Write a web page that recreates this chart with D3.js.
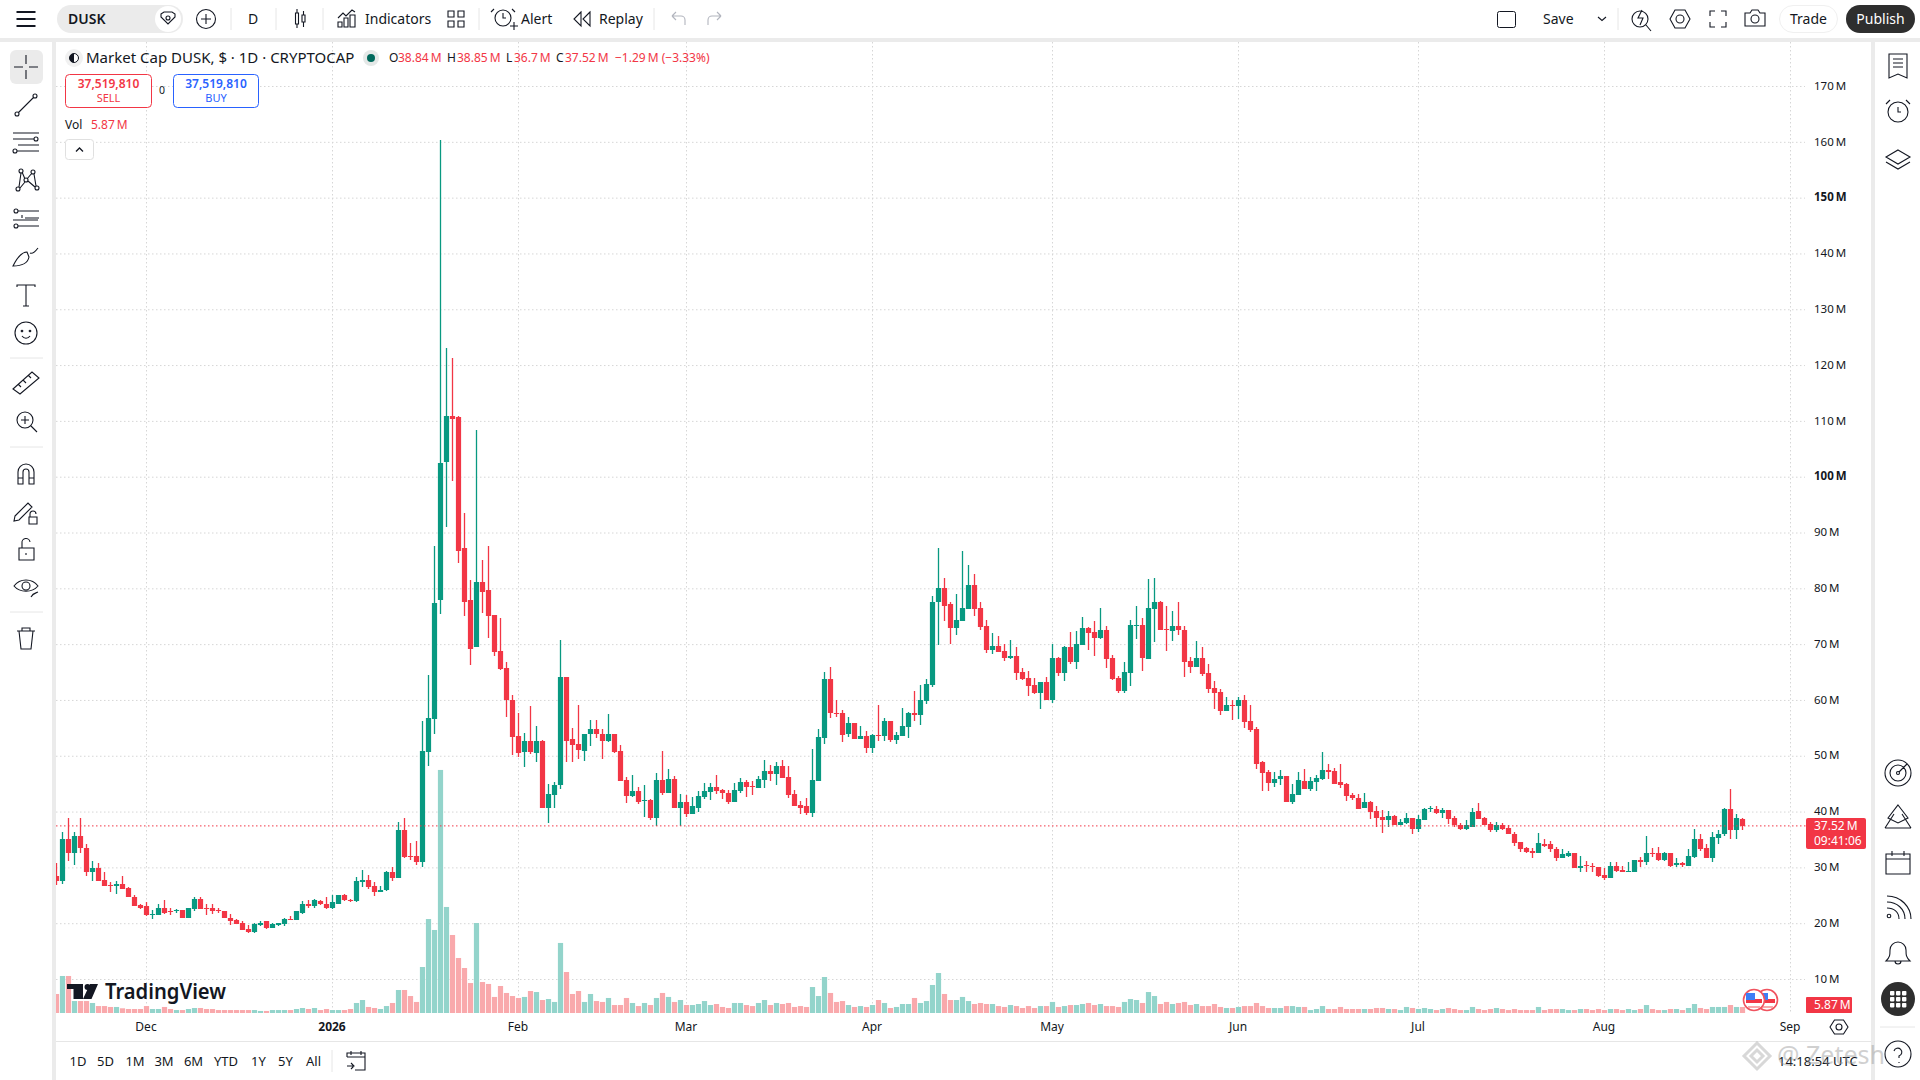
<!DOCTYPE html>
<html>
<head>
<meta charset="utf-8">
<script src="https://d3js.org/d3.v7.min.js"></script>
<style>
  html, body { margin: 0; padding: 0; background: #ffffff; overflow: hidden; }
  svg { display: block; }
  text { font-family: 'Noto Sans', sans-serif; fill: #131722; }
</style>
</head>
<body>
<div id="chartContainer"></div>
<script>
// daily candles, first one is 16 Nov 2025, values in millions
var firstDay = new Date(Date.UTC(2025, 10, 16));

var opens = [
  28.6,27.7,35.1,32.7,35.8,33.6,29.2,29.9,27.9,27.0,
  26.7,27.2,26.4,24.8,23.3,23.1,21.6,21.6,22.9,22.2,
  22.2,22.4,21.1,22.7,24.5,22.9,22.9,22.4,22.2,21.1,
  20.6,20.1,19.0,18.5,19.7,20.4,19.2,19.7,19.9,20.8,
  20.6,22.0,23.6,23.1,24.0,23.6,22.9,23.6,25.2,24.3,
  24.0,27.4,27.9,26.7,25.6,26.0,29.2,28.1,36.8,32.2,
  32.2,31.0,50.8,56.7,78.0,102.8,110.9,110.7,87.3,78.0,
  69.6,81.2,79.7,75.3,68.9,65.9,60.1,53.6,50.8,52.8,
  50.6,52.8,40.8,43.1,44.8,64.2,53.1,52.2,51.0,53.9,
  54.8,53.9,52.8,53.9,51.0,45.8,42.9,43.8,42.0,42.2,
  39.0,45.8,43.5,46.0,40.8,41.8,39.7,40.8,42.7,43.6,
  44.5,44.0,43.5,41.8,43.8,45.4,44.7,44.3,45.8,47.4,
  46.8,48.3,46.3,43.3,41.3,41.0,39.9,45.6,53.3,63.8,
  57.7,57.7,54.0,56.0,53.1,53.6,51.5,53.8,53.6,56.3,
  52.9,53.6,55.2,57.7,57.4,59.9,62.7,77.6,80.1,77.2,
  72.9,74.3,76.3,80.6,76.5,73.3,69.0,69.7,68.8,67.6,
  67.9,65.1,64.0,62.7,61.3,63.3,60.1,67.6,64.9,69.5,
  66.8,69.9,72.9,72.2,71.1,72.6,67.6,64.0,61.7,64.9,
  73.4,73.6,67.4,76.3,77.6,72.8,72.4,73.3,72.7,67.0,
  66.0,67.6,64.9,62.2,61.5,58.1,59.2,59.0,60.1,56.3,
  54.9,49.0,47.2,45.2,46.0,46.5,41.8,43.1,45.6,44.2,
  45.4,46.0,47.6,47.4,45.4,45.1,43.1,42.6,40.8,41.8,
  40.2,39.2,38.6,39.3,37.7,38.1,39.0,37.0,38.6,40.5,
  40.6,39.9,40.4,39.0,37.7,37.0,37.4,40.2,39.0,37.9,
  36.8,37.7,37.2,36.1,34.7,33.5,33.1,32.6,34.3,34.2,
  33.3,31.8,32.2,32.7,29.9,30.5,30.4,30.2,28.8,28.1,
  30.4,29.7,29.3,29.3,31.5,31.1,32.7,32.7,31.5,32.6,
  30.6,30.8,30.4,32.0,35.2,33.5,31.7,35.4,36.0,40.6,
  36.7,38.84
];
var highs = [
  30.8,36.5,39.0,36.5,39.0,34.2,31.3,30.8,29.2,27.4,
  27.6,28.6,26.5,25.2,23.6,23.8,22.4,23.5,24.3,22.9,
  22.7,22.4,22.9,24.7,24.7,23.5,23.6,22.9,22.3,21.7,
  20.8,20.4,19.7,20.1,20.4,20.4,20.2,20.2,21.1,21.3,
  22.2,24.0,24.3,24.5,24.3,24.7,25.1,25.2,25.3,24.5,
  28.3,29.7,28.8,27.4,26.7,29.5,30.1,38.3,39.0,34.5,
  34.9,56.3,64.5,87.6,160.4,123.2,121.4,110.9,93.5,81.5,
  108.4,85.2,87.6,75.3,74.7,66.9,60.9,57.8,54.2,59.0,
  55.4,53.0,45.1,45.4,70.9,64.2,55.1,59.2,54.0,56.5,
  56.5,54.8,57.6,53.9,52.1,46.2,46.7,44.5,44.9,42.4,
  47.0,51.0,47.7,46.5,43.3,43.1,42.7,43.8,45.2,45.2,
  46.7,44.2,44.0,45.2,46.1,45.8,45.6,46.5,49.3,48.5,
  49.0,49.3,48.3,44.0,42.0,42.6,51.3,54.9,65.1,66.0,
  60.1,58.3,57.0,56.0,55.4,54.5,54.0,59.2,56.8,56.3,
  54.3,58.6,57.9,61.7,62.7,63.8,78.8,87.4,82.0,77.7,
  79.0,86.8,84.3,82.6,77.7,74.5,72.0,71.5,70.1,70.8,
  69.5,65.8,65.2,64.0,63.3,64.2,70.1,67.7,69.7,72.2,
  72.4,74.9,73.1,74.2,76.5,73.3,68.1,64.3,66.8,74.5,
  77.0,74.7,81.7,82.0,77.9,77.0,76.0,77.7,73.3,67.7,
  70.6,69.5,66.5,63.5,62.0,60.6,60.1,60.7,61.0,59.2,
  55.2,49.2,47.6,47.2,47.6,46.5,45.1,47.2,47.7,46.3,
  46.7,50.8,48.6,47.9,48.6,45.2,43.5,43.3,43.5,42.0,
  41.1,40.4,40.2,39.5,38.8,39.9,39.0,39.5,40.8,41.1,
  41.0,40.8,40.4,39.3,38.1,38.6,40.8,41.7,39.2,38.3,
  38.3,38.1,37.6,36.5,34.7,33.8,33.6,36.3,35.2,34.9,
  33.8,33.3,33.1,32.7,32.2,31.3,30.8,30.2,29.9,31.1,
  31.1,30.4,31.1,31.5,32.0,35.8,33.6,33.8,32.9,32.7,
  31.7,31.0,33.3,37.0,36.1,34.2,36.5,36.7,40.8,44.2,
  39.7,38.85
];
var lows = [
  27.0,27.2,31.3,30.6,32.6,28.5,27.6,27.7,26.8,25.6,
  25.4,26.3,24.7,23.1,22.7,21.3,20.8,21.5,21.8,21.5,
  22.0,21.0,21.1,22.2,22.7,21.5,21.7,22.0,21.0,19.7,
  19.9,18.8,18.3,18.3,19.5,19.0,19.2,19.5,19.5,20.6,
  20.6,21.7,22.9,22.9,23.3,22.6,22.7,23.5,24.0,23.8,
  23.8,26.5,26.3,24.9,25.6,25.8,27.7,28.1,31.8,31.5,
  30.6,30.1,48.3,53.9,75.5,91.1,99.4,84.6,75.1,66.4,
  69.6,75.6,71.2,68.0,65.5,57.1,50.3,49.9,48.0,50.4,
  49.0,40.8,38.1,40.8,44.2,49.0,49.0,49.5,49.2,51.9,
  53.3,49.5,52.6,50.6,45.6,41.7,42.7,41.5,39.2,38.5,
  37.5,43.1,43.5,40.8,37.5,39.2,39.7,40.1,42.4,42.2,
  43.3,42.4,41.5,41.8,43.5,42.7,43.1,44.3,44.3,45.6,
  44.9,46.1,42.6,41.1,39.7,39.5,39.2,45.6,52.2,56.8,
  57.0,52.6,53.5,53.1,53.1,50.6,50.6,52.7,52.7,52.6,
  52.2,53.6,53.3,56.3,55.6,59.3,62.4,69.9,74.2,70.2,
  71.8,74.2,76.3,75.2,72.6,68.5,68.3,68.6,67.0,67.4,
  63.6,63.6,60.8,61.1,58.5,60.1,59.5,64.3,63.5,66.5,
  65.6,69.9,69.0,67.9,71.0,65.8,63.6,61.3,61.3,62.6,
  71.0,65.2,67.4,70.4,72.6,68.8,70.6,71.8,64.2,64.9,
  66.0,64.3,61.3,58.5,57.4,58.1,56.5,56.7,55.1,54.3,
  47.7,43.8,43.8,44.5,44.9,41.8,41.5,43.1,44.2,43.8,
  43.8,45.8,46.0,45.1,44.3,42.0,42.2,40.6,40.8,38.8,
  37.4,36.3,37.4,37.7,37.7,37.9,36.1,36.5,38.6,40.1,
  39.7,39.0,37.9,37.4,36.7,36.8,37.4,38.8,37.7,36.5,
  36.5,36.8,36.0,34.0,32.9,32.7,31.8,32.6,33.8,32.9,
  31.3,31.7,32.0,29.9,29.3,29.2,29.3,28.3,27.9,28.1,
  29.2,29.2,29.3,29.3,30.1,30.6,32.0,31.3,31.3,30.2,
  30.1,30.1,30.4,31.8,33.1,31.7,31.1,34.3,35.8,35.2,
  35.1,36.7
];
var closes = [
  27.7,35.1,32.7,35.8,33.5,29.2,29.9,27.7,26.8,26.7,
  27.2,26.3,24.7,23.1,22.9,21.5,21.7,22.9,22.0,22.1,
  22.4,21.1,22.9,24.5,22.7,22.8,22.2,22.2,21.0,20.4,
  19.9,18.8,18.5,19.9,20.2,19.2,19.9,20.1,20.8,20.6,
  22.2,23.6,23.1,24.2,23.5,22.9,23.8,25.2,24.2,24.1,
  27.6,27.9,26.5,25.6,26.1,29.2,28.1,36.8,32.0,32.0,
  31.0,51.0,56.9,77.4,102.5,110.9,110.4,86.7,77.6,69.2,
  81.2,79.4,75.1,68.7,65.6,60.0,53.5,50.6,52.8,50.8,
  52.8,40.8,43.3,44.9,64.2,52.8,52.1,51.2,54.0,54.8,
  53.9,52.8,53.9,50.8,45.6,42.8,43.8,41.8,42.1,39.0,
  45.8,43.5,46.0,40.8,41.8,39.7,41.0,42.9,43.8,44.5,
  43.8,43.5,41.8,44.0,45.4,44.5,44.5,46.0,47.4,46.8,
  48.3,46.1,43.1,41.1,40.8,39.9,45.8,53.5,63.8,57.7,
  57.5,53.8,56.0,53.1,53.6,51.5,53.8,53.6,56.3,52.9,
  53.8,55.4,57.7,57.4,60.1,62.9,77.7,80.1,77.0,72.9,
  74.5,76.5,80.6,76.3,73.1,69.0,69.7,68.6,67.6,67.9,
  64.9,63.8,62.6,61.3,63.3,60.1,67.6,64.9,69.5,66.8,
  70.1,72.9,72.0,71.1,72.6,67.4,63.8,61.7,65.1,73.6,
  73.6,67.6,76.5,77.6,72.6,72.6,73.3,72.6,66.8,66.0,
  67.6,64.7,62.0,61.3,58.1,59.2,59.0,60.1,56.1,54.7,
  48.6,47.0,45.2,46.0,46.5,41.8,43.3,45.8,44.2,45.6,
  46.1,47.6,47.2,45.1,44.9,42.9,42.6,40.6,41.8,40.1,
  39.0,38.6,39.3,37.7,38.3,39.0,37.0,38.8,40.6,40.7,
  39.9,40.4,38.8,37.6,37.0,37.6,40.1,38.8,37.7,36.8,
  37.7,37.0,36.0,34.5,33.3,32.9,32.6,34.5,34.0,33.3,
  31.8,32.4,32.7,29.9,30.4,30.3,30.2,28.6,28.1,30.4,
  29.5,29.3,29.5,31.5,31.1,32.7,32.6,31.5,32.6,30.4,
  30.8,30.6,32.2,35.2,33.3,31.7,35.6,36.1,40.6,36.7,
  39.0,37.52
];
var volumes = [
  18.6,36.2,36.2,11.7,11.7,11.7,9.8,6.8,6.8,5.9,
  5.9,4.6,3.9,3.9,3.9,6.8,3.9,3.9,5.9,3.9,
  2.9,2.9,3.9,4.9,4.9,3.9,3.9,2.9,2.9,2.9,
  2.9,2.9,2.9,2.9,2.0,2.0,2.9,2.9,2.9,2.9,
  3.9,4.9,3.9,4.9,2.9,3.9,2.9,2.9,2.9,3.9,
  9.8,12.7,5.9,4.9,3.9,6.8,9.8,22.5,22.5,16.6,
  10.8,45.0,91.9,81.2,237.7,103.7,76.3,53.8,44.0,29.3,
  88.0,30.3,28.4,15.7,26.4,19.6,16.6,14.7,15.7,21.5,
  20.5,12.7,13.7,10.8,68.5,40.1,18.6,21.5,10.8,18.6,
  11.7,10.8,14.7,7.8,7.8,14.7,9.8,6.8,9.8,7.8,
  14.7,19.6,15.7,10.8,12.7,7.8,7.8,8.8,11.7,7.8,
  8.8,5.9,4.9,9.8,9.8,7.8,6.8,9.8,12.7,7.8,
  9.8,8.8,9.8,5.9,6.8,5.9,25.4,16.6,35.2,19.6,
  10.8,11.7,7.8,5.9,6.8,5.9,7.8,12.7,9.8,4.9,
  5.9,8.8,8.8,14.7,9.8,11.7,27.4,39.1,18.6,12.7,
  12.7,15.7,11.7,8.8,9.8,8.8,8.8,6.8,5.9,7.8,
  6.8,4.9,6.8,4.9,6.8,6.8,10.8,5.9,6.8,7.8,
  7.8,8.8,9.8,7.8,8.8,6.8,6.8,5.9,10.8,13.7,
  12.7,9.8,20.5,16.6,8.8,10.8,8.8,9.8,10.8,7.8,
  8.8,6.8,6.8,8.8,5.9,4.9,4.9,5.9,6.8,6.8,
  9.8,6.8,4.9,4.9,4.9,6.8,6.8,5.9,5.9,2.9,
  3.9,6.8,3.9,3.9,5.9,3.9,3.9,3.9,3.9,3.9,
  4.9,4.9,3.9,3.9,2.9,5.9,4.9,3.9,4.9,3.9,
  2.9,3.9,4.9,3.9,2.9,2.9,5.9,3.9,2.9,3.9,
  4.9,3.9,2.9,3.9,2.9,2.9,2.9,5.9,2.9,3.9,
  3.9,3.9,2.9,2.9,3.9,3.9,2.9,3.9,2.9,3.9,
  3.9,2.9,3.9,2.9,3.9,7.8,3.9,2.9,2.9,3.9,
  3.9,2.9,4.9,8.8,4.9,3.9,5.9,5.9,5.9,7.8,
  5.9,5.87
];

var priceTicks = [170, 160, 150, 140, 130, 120, 110, 100, 90, 80, 70, 60, 50, 40, 30, 20, 10];
var boldPrices = [150, 100];
var monthTicks = [
  new Date(Date.UTC(2025, 11, 1)), new Date(Date.UTC(2026, 0, 1)), new Date(Date.UTC(2026, 1, 1)),
  new Date(Date.UTC(2026, 2, 1)), new Date(Date.UTC(2026, 3, 1)), new Date(Date.UTC(2026, 4, 1)),
  new Date(Date.UTC(2026, 5, 1)), new Date(Date.UTC(2026, 6, 1)), new Date(Date.UTC(2026, 7, 1)),
  new Date(Date.UTC(2026, 8, 1))
];
var rangeLabels = ["1D", "5D", "1M", "3M", "6M", "YTD", "1Y", "5Y", "All"];
var rangeLabelX = [78, 105.5, 135, 164, 193.5, 226, 258.5, 285.5, 313.5];

var upColor = "#089981", downColor = "#F23645";
var upVol = "#93D4CB", downVol = "#F9A9AC";
var ink = "#131722";
var gap = "#EBEBEB";

var svg = d3.select("#chartContainer").append("svg").attr("width", 1920).attr("height", 1080);

var x = d3.scaleUtc().domain([monthTicks[0], monthTicks[9]]).range([146.5, 1790.5]);
var y = d3.scaleLinear().domain([10, 170]).range([979.5, 86.5]);
var yVol = d3.scaleLinear().domain([0, 240]).range([1013, 767.6]);

var candles = opens.map(function (o, i) {
  return { date: d3.utcDay.offset(firstDay, i), open: o, high: highs[i], low: lows[i], close: closes[i], volume: volumes[i], up: closes[i] >= o };
});

// panel backgrounds
svg.append("rect").attr("width", 1920).attr("height", 1080).attr("fill", "#ffffff");
svg.append("rect").attr("x", 0).attr("y", 38).attr("width", 1920).attr("height", 4).attr("fill", gap);
svg.append("rect").attr("x", 52).attr("y", 38).attr("width", 4).attr("height", 1042).attr("fill", gap);
svg.append("rect").attr("x", 1871).attr("y", 38).attr("width", 4).attr("height", 1042).attr("fill", gap);
svg.append("rect").attr("x", 56).attr("y", 1041).attr("width", 1815).attr("height", 1).attr("fill", "#E6E6E6");

var defs = svg.append("defs");
defs.append("clipPath").attr("id", "plot").append("rect").attr("x", 56).attr("y", 42).attr("width", 1749).attr("height", 971);

// grid
var grid = svg.append("g").attr("clip-path", "url(#plot)")
  .attr("stroke", "#D6D6D6").attr("stroke-width", 1).attr("stroke-dasharray", "1.5 2.5");
grid.selectAll("line.h").data(priceTicks).enter().append("line")
  .attr("x1", 56).attr("x2", 1805)
  .attr("y1", function (d) { return y(d); }).attr("y2", function (d) { return y(d); });
grid.selectAll("line.v").data(monthTicks).enter().append("line")
  .attr("y1", 42).attr("y2", 1013)
  .attr("x1", function (d) { return x(d); }).attr("x2", function (d) { return x(d); });

var plot = svg.append("g").attr("clip-path", "url(#plot)");

// volume
plot.append("g").selectAll("rect").data(candles).enter().append("rect")
  .attr("x", function (d) { return x(d.date) - 2.6; })
  .attr("width", 5.2)
  .attr("y", function (d) { return yVol(d.volume); })
  .attr("height", function (d) { return yVol(0) - yVol(d.volume); })
  .attr("fill", function (d) { return d.up ? upVol : downVol; });

// candles, wick then body
plot.append("g").selectAll("rect").data(candles).enter().append("rect")
  .attr("x", function (d) { return x(d.date) - 0.65; })
  .attr("width", 1.3)
  .attr("y", function (d) { return Math.round(y(d.high)); })
  .attr("height", function (d) { return Math.max(1, Math.round(y(d.low)) - Math.round(y(d.high))); })
  .attr("fill", function (d) { return d.up ? upColor : downColor; });
plot.append("g").selectAll("rect").data(candles).enter().append("rect")
  .attr("x", function (d) { return x(d.date) - 2.6; })
  .attr("width", 5.2)
  .attr("y", function (d) { return Math.round(y(Math.max(d.open, d.close))); })
  .attr("height", function (d) { return Math.max(1, Math.round(y(Math.min(d.open, d.close))) - Math.round(y(Math.max(d.open, d.close)))); })
  .attr("fill", function (d) { return d.up ? upColor : downColor; });

// last price line
var lastClose = closes[closes.length - 1];
svg.append("line").attr("x1", 56).attr("x2", 1806)
  .attr("y1", y(lastClose)).attr("y2", y(lastClose))
  .attr("stroke", downColor).attr("stroke-width", 1).attr("stroke-dasharray", "1.5 2.5");

// axes
var yAxis = svg.append("g").attr("transform", "translate(1814,-1)")
  .call(d3.axisRight(y).tickValues(priceTicks).tickSize(0).tickPadding(0)
    .tickFormat(function (d) { return d + "\u2009M"; }));
yAxis.select(".domain").remove();
yAxis.selectAll("text")
  .style("font-family", "'Noto Sans', sans-serif").style("font-size", "11.5px").attr("fill", ink)
  .style("font-weight", function (d) { return boldPrices.indexOf(d) >= 0 ? "700" : "400"; });

var xAxis = svg.append("g").attr("transform", "translate(-1,1027)")
  .call(d3.axisBottom(x).tickValues(monthTicks).tickSize(0).tickPadding(0)
    .tickFormat(function (d) { return d.getUTCMonth() === 0 ? d.getUTCFullYear() : d3.utcFormat("%b")(d); }));
xAxis.select(".domain").remove();
xAxis.selectAll("text").attr("dy", "0.35em")
  .style("font-family", "'Noto Sans', sans-serif").style("font-size", "12px").attr("fill", ink)
  .style("font-weight", function (d) { return d.getUTCMonth() === 0 ? "700" : "400"; });

function label(t, px, py, size, color, weight, anchor) {
  return svg.append("text").attr("x", px).attr("y", py).attr("dy", "0.35em")
    .attr("font-size", size).style("fill", color || ink)
    .attr("font-weight", weight || 400).attr("text-anchor", anchor || "start").text(t);
}

// price tags on the axis
svg.append("rect").attr("x", 1806).attr("y", 818).attr("width", 60).attr("height", 31).attr("rx", 2).attr("fill", downColor);
label(lastClose.toFixed(2) + "\u2009M", 1814, 826, 12, "#ffffff");
label("09:41:06", 1814, 841, 12, "#ffffff");
svg.append("rect").attr("x", 1806).attr("y", 997).attr("width", 46).attr("height", 16).attr("rx", 1).attr("fill", downColor);
label(volumes[volumes.length - 1].toFixed(2) + "\u2009M", 1814, 1005, 12, "#ffffff");

// legend
svg.append("circle").attr("cx", 74).attr("cy", 58).attr("r", 9).attr("fill", "#F1F1F1");
svg.append("circle").attr("cx", 74).attr("cy", 58).attr("r", 4.5).attr("fill", "#ffffff").attr("stroke", ink);
svg.append("path").attr("d", "M74 53.5a4.5 4.5 0 0 0 0 9z").attr("fill", ink);
label("Market Cap DUSK, $ \u00B7 1D \u00B7 CRYPTOCAP", 86, 58, 15);
svg.append("circle").attr("cx", 371).attr("cy", 58).attr("r", 8).attr("fill", "#E4E8E7");
svg.append("circle").attr("cx", 371).attr("cy", 58).attr("r", 4).attr("fill", "#00695C");
var legendO = [["O", 389, ink], ["38.84\u2009M", 398, downColor], ["H", 447, ink], ["38.85\u2009M", 457, downColor],
  ["L", 506, ink], ["36.7\u2009M", 514, downColor], ["C", 556, ink], ["37.52\u2009M", 565, downColor],
  ["\u22121.29\u2009M (\u22123.33%)", 615, downColor]];
legendO.forEach(function (d) { label(d[0], d[1], 58, 12, d[2]); });

svg.append("rect").attr("x", 65.5).attr("y", 74.5).attr("width", 86).attr("height", 33).attr("rx", 4)
  .attr("fill", "#ffffff").attr("stroke", downColor);
label("37,519,810", 108.5, 84, 12, downColor, 600, "middle");
label("SELL", 108.5, 98, 11, downColor, 400, "middle");
label("0", 162, 90.5, 10.5, ink, 400, "middle");
svg.append("rect").attr("x", 173.5).attr("y", 74.5).attr("width", 85).attr("height", 33).attr("rx", 4)
  .attr("fill", "#ffffff").attr("stroke", "#2962FF");
label("37,519,810", 216, 84, 12, "#2962FF", 600, "middle");
label("BUY", 216, 98, 11, "#2962FF", 400, "middle");
label("Vol", 65, 125, 12);
label("5.87\u2009M", 91, 125, 12, downColor);
svg.append("rect").attr("x", 65.5).attr("y", 139.5).attr("width", 28).attr("height", 20).attr("rx", 3)
  .attr("fill", "#ffffff").attr("stroke", "#E0E0E0");
svg.append("path").attr("d", "M76 151.5l3.5-3.5 3.5 3.5").attr("fill", "none").attr("stroke", ink).attr("stroke-width", 1.3);

// tradingview mark
svg.append("path").attr("fill", ink).attr("d", "M67 984h16v15h-9.5v-10H67zM90 984h8l-6.5 15h-8.5z");
svg.append("circle").attr("cx", 87.5).attr("cy", 987).attr("r", 3).attr("fill", ink);
label("TradingView", 105, 991.5, 22, ink, 600).attr("textLength", 121).attr("lengthAdjust", "spacingAndGlyphs");

// calendar flags near the last bars
function flag(cx, cy) {
  var g = svg.append("g").attr("transform", "translate(" + cx + "," + cy + ")");
  g.append("circle").attr("r", 10.5).attr("fill", "#ffffff").attr("stroke", "#F0535F").attr("stroke-width", 1.6);
  g.append("rect").attr("x", -8).attr("y", -1).attr("width", 16).attr("height", 4).attr("fill", "#F23645");
  g.append("rect").attr("x", -6).attr("y", 6).attr("width", 12).attr("height", 2).attr("fill", "#F9A9AC");
  g.append("rect").attr("x", -8).attr("y", -7).attr("width", 9).attr("height", 7).attr("fill", "#3D7EF5");
}
flag(1767, 1000);
flag(1754, 1000);

// toolbar helpers
function dot(cx, cy, r) {
  return "M" + (cx - r) + " " + cy + "a" + r + " " + r + " 0 1 0 " + (2 * r) + " 0a" + r + " " + r + " 0 1 0 " + (-2 * r) + " 0";
}
function icon(d, cx, cy, color) {
  svg.append("path").attr("transform", "translate(" + cx + "," + cy + ")").attr("d", d)
    .attr("fill", "none").attr("stroke", color || ink).attr("stroke-width", 1.1);
}
function separator(x1, y1, x2, y2) {
  svg.append("line").attr("x1", x1).attr("y1", y1).attr("x2", x2).attr("y2", y2).attr("stroke", "#E6E6E6");
}

// top bar
svg.append("path").attr("transform", "translate(26,19)").attr("d", "M-9.5 -7H9.5M-9.5 0H9.5M-9.5 7H9.5")
  .attr("stroke", ink).attr("stroke-width", 2);
svg.append("rect").attr("x", 57).attr("y", 5).attr("width", 126).attr("height", 28).attr("rx", 14).attr("fill", gap);
svg.append("circle").attr("cx", 168).attr("cy", 19).attr("r", 13).attr("fill", "#ffffff");
label("DUSK", 68, 19, 14, ink, 600);
icon("M-7 -5l3-2h8l3 2 0 3-7 7-7-7zM-2 -1a2 2 0 1 0 4 0a2 2 0 1 0 -4 0", 168, 19);
icon(dot(0, 0, 9.5) + "M-5 0H5M0 -5V5", 206, 19);
separator(231, 8, 231, 30);
label("D", 253, 19, 14, ink, 400, "middle");
separator(276, 8, 276, 30);
icon("M-4.5 -6h3v11h-3zM-3 -10V-6M-3 5V9M2 -4h3v7h-3zM3.5 -8V-4M3.5 3V8", 300, 19);
separator(323, 8, 323, 30);
icon("M-9 8V3h4v5zM-3 8V-1h4V8zM3 8V-4h5V8zM-9 -1l5-5 3 3 6-6 3 2", 347, 19);
label("Indicators", 365, 19, 14);
icon("M-8 -8h6v6h-6zM2 -8h6v6h-6zM-8 2h6v6h-6zM2 2h6v6h-6z", 456, 19);
separator(479, 8, 479, 30);
icon(dot(0, 0, 8) + "M0 -5V0H3M-9 -9l-3 3M9 -9l3 3M7 8h8M11 4v8", 503, 18);
label("Alert", 521, 19, 14);
icon("M-1 -7l-7 7 7 7zM8 -7l-7 7 7 7z", 582, 19);
label("Replay", 599, 19, 14);
separator(654, 8, 654, 30);
icon("M-6 -3H3a4 4 0 0 1 4 4v5M-6 -3l4-4M-6 -3l4 4", 678, 19, "#B2B5BE");
icon("M6 -3H-3a4 4 0 0 0 -4 4v5M6 -3l-4-4M6 -3l-4 4", 715, 19, "#B2B5BE");
svg.append("rect").attr("x", 1497.5).attr("y", 11.5).attr("width", 18).attr("height", 16).attr("rx", 2)
  .attr("fill", "none").attr("stroke", ink);
label("Save", 1543, 19, 14);
icon("M-4 -2l4 3.5 4-3.5", 1602, 19);
separator(1618, 8, 1618, 30);
icon(dot(-2, 0, 8) + "M4 6l5 6M0 -9l-4 8h5l-3 7", 1642, 19);
icon("M-10 0l5-9h10l5 9-5 9h-10zM-4 0a4 4 0 1 0 8 0a4 4 0 1 0 -8 0", 1680, 19);
icon("M-3 -8H-8V-3M3 -8H8V-3M-8 3V8H-3M8 3V8H3", 1718, 19);
icon("M-10 -6h5l2-3h6l2 3h5v13h-20zM-4 0a4 4 0 1 0 8 0a4 4 0 1 0 -8 0", 1755, 19);
svg.append("rect").attr("x", 1779.5).attr("y", 5.5).attr("width", 58).attr("height", 27).attr("rx", 13.5)
  .attr("fill", "#ffffff").attr("stroke", "#F0F0F0");
label("Trade", 1808.5, 19, 14, ink, 400, "middle");
svg.append("rect").attr("x", 1846).attr("y", 5).attr("width", 69).attr("height", 28).attr("rx", 14).attr("fill", "#2E2E2E");
label("Publish", 1880.5, 19, 14, "#ffffff", 400, "middle");

// left bar
svg.append("rect").attr("x", 10).attr("y", 50).attr("width", 33).attr("height", 34).attr("rx", 6).attr("fill", gap);
icon("M-12 0H-3M3 0H12M0 -12V-3M0 3V12", 26, 67);
icon(dot(-9, 9, 2) + "M-7.5 7.5L7.5 -7.5" + dot(9, -9, 2), 26, 105);
icon("M-13 -9H13M-13 -3H8" + dot(10, -3, 2) + "M-8 3H13" + dot(-11, 9, 2) + "M-9 9H13", 26, 142);
icon(dot(-8, 9, 2) + dot(-5, -9, 2) + dot(0, 0, 2) + dot(7, -8, 2) + dot(11, 8, 2) + "M-7 7L-5 -7M-4 -8L-1 -1M1 -1L6 -7M8 -6L10 6M-6 8L-1 2M2 1L9 7", 26, 180);
icon(dot(-10, -8, 2) + "M-8 -8H13M-4 -1v-3M-1 -1H13M-13 1H12" + dot(-10, 7, 2) + "M-8 7H13", 26, 219);
icon("M-13 9C-9 1 -5 -5 1 -5L3 0C2 5 -3 9 -13 9zM4 -4C6 -3 9 -5 12 -9", 26, 257);
icon("M-9 -8V-10H9V-8M0 -10V11M-3 11H3", 26, 295);
icon(dot(0, 0, 11) + dot(-4, -2, 0.8) + dot(4, -2, 0.8) + "M-4 3C-2 6 2 6 4 3", 26, 333);
separator(10, 358, 43, 358);
icon("M-13 6L6 -11L13 -5L-6 11zM-8 1l3 3M-3 -3l3 3M2 -8l3 3", 26, 383);
icon(dot(-1, -1, 8) + "M5 5L11 11M-5 -1H3M-1 -5V3", 26, 421);
separator(10, 447, 43, 447);
icon("M-8 11V-1A8 8 0 0 1 8 -1V11H3V-1A3 3 0 0 0 -3 -1V11zM-8 5H-3M3 5H8", 26, 473);
icon("M-11 4L2 -9L6 -5L-7 8L-12 9zM3 5h8v7H3zM4 5V2a3 3 0 0 1 6 0", 26, 512);
icon("M-7 -1H8V11H-7zM-4 -1V-6A4 4 0 0 1 4 -7M0 4v2", 26, 549);
icon("M-12 -1C-6 -9 6 -9 12 -1C6 6 -6 6 -12 -1z" + dot(0, -1, 4) + "M5 10C7 6 10 6 12 5", 26, 587);
separator(10, 612, 43, 612);
icon("M-9 -7H9M-4 -7V-10H4V-7M-7 -7L-5 11H5L7 -7", 26, 638);

// right bar
icon("M-9 -12H9V12L0 8L-9 12zM-5 -7H5M-5 -3H5M-5 1H5", 1898, 66);
icon(dot(0, 1, 10) + "M3 1H0V-4M-12 -7L-8 -11M12 -7L8 -11", 1898, 111);
icon("M0 -8L12 -1L0 6L-12 -1zM-12 4L0 11L12 4", 1898, 158);
icon(dot(0, 0, 13) + dot(0, 0, 8) + dot(0, 0, 1.5) + "M1 -1L9 -9", 1898, 773);
icon("M0 -12L10 1L0 6L-10 1zM-13 11L-4 -3M13 11L4 -3M-13 11H13", 1898, 817);
icon("M-12 -8H12V12H-12zM-12 -3H12M-6 -11V-6M6 -11V-6", 1898, 862);
icon(dot(-9, 9, 1.8) + "M-11 1C-4 1 1 5 1 12M-11 -5C-1 -5 7 2 7 12M-11 -11C3 -11 13 0 13 12", 1898, 907);
icon("M-12 8H12C8 4 8 2 8 -3A8 8 0 0 0 -8 -3C-8 2 -8 4 -12 8zM-3 8a3 3 0 0 0 6 0", 1898, 953);
svg.append("circle").attr("cx", 1898).attr("cy", 999).attr("r", 17).attr("fill", "#2E2E2E");
[-6, 0, 6].forEach(function (dy) {
  [-6, 0, 6].forEach(function (dx) {
    svg.append("rect").attr("x", 1898 + dx - 2).attr("y", 999 + dy - 2).attr("width", 4.4).attr("height", 4.4).attr("rx", 0.8).attr("fill", "#ffffff");
  });
});
separator(1880, 1027, 1915, 1027);
icon(dot(0, 0, 13) + "M-4 -3A4 4 0 1 1 1 2V4M1 8V9", 1898, 1054);

// bottom bar
rangeLabels.forEach(function (t, i) { label(t, rangeLabelX[i], 1061, 13, ink, 400, "middle"); });
separator(332, 1050, 332, 1072);
icon("M-9 -4V-8H9V9H-1M-9 -4H9M-5 -10V-6M5 -10V-6M-9 5H-3M-5 2L-2 5L-5 8", 356, 1061);
icon("M-9 0L-4.5 -7H4.5L9 0L4.5 7H-4.5zM-3 0a3 3 0 1 0 6 0a3 3 0 1 0 -6 0", 1839, 1027);
label("14:18:54 UTC", 1778, 1061, 13);

// repost watermark
var wm = svg.append("g").attr("opacity", 0.45);
wm.append("path").attr("d", "M0 -13L13 0L0 13L-13 0zM0 -6L6 0L0 6L-6 0z").attr("transform", "translate(1757,1056)")
  .attr("fill", "none").attr("stroke", "#AAAAAA").attr("stroke-width", 3);
wm.append("text").attr("x", 1777).attr("y", 1064).attr("font-size", 25).style("fill", "#999999").text("@ Zetesh");
</script>
</body>
</html>
